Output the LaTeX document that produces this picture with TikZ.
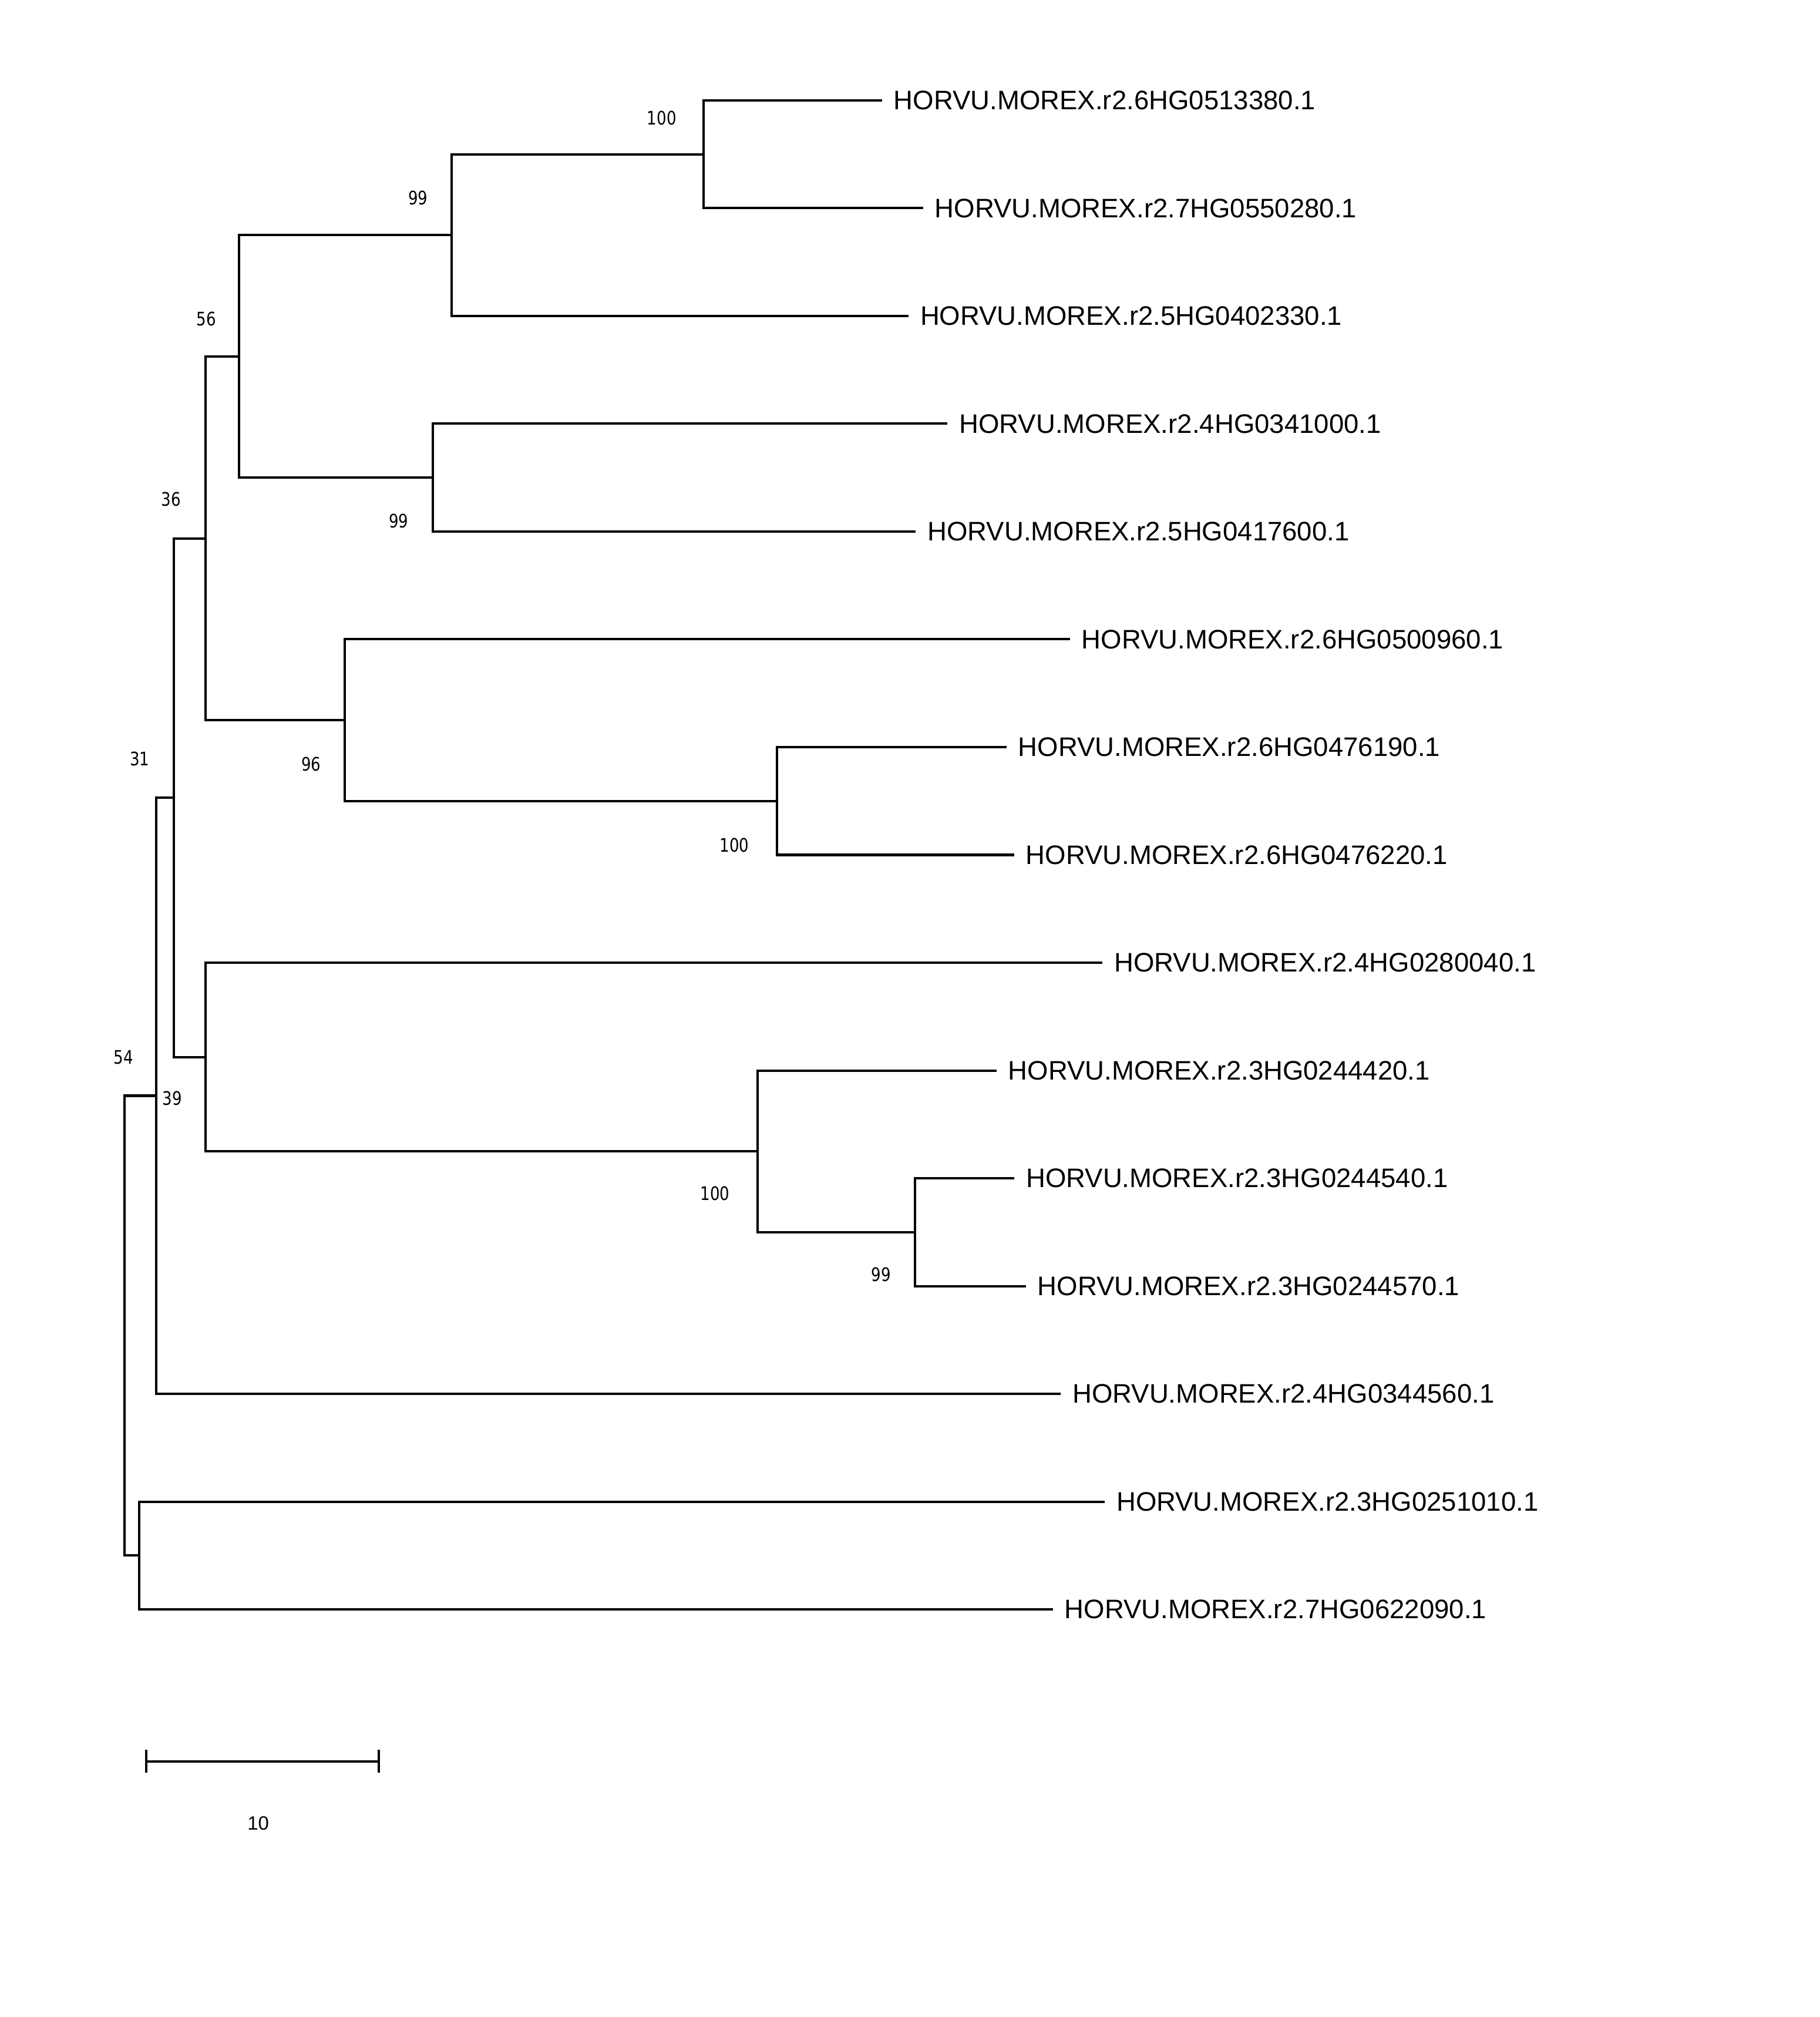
\documentclass[tikz,border=0pt]{standalone}
\usepackage{fontspec}
\setmainfont{Liberation Sans}
\newfontfamily\bootfont[FakeStretch=0.82]{DejaVu Sans}
\begin{document}
\begin{tikzpicture}[x=1pt,y=-1pt,
  br/.style={line width=1.85pt},
  leaflabel/.style={anchor=west, inner sep=0pt, font=\fontsize{20.8}{24}\selectfont},
  boot/.style={inner sep=0pt, font=\bootfont\fontsize{14.5}{17}\selectfont},
  scalelabel/.style={inner sep=0pt, font=\fontsize{15}{18}\selectfont}]
\useasboundingbox[fill=white] (0,0) rectangle (1415,1568);
% internal nodes
\coordinate (r) at (97,1030.55);
\coordinate (a) at (121.5,851.8);
\coordinate (b) at (135,620.1);
\coordinate (c) at (160,418.5);
\coordinate (d) at (186,277);
\coordinate (e) at (351,182.75);
\coordinate (f) at (547,119.9);
\coordinate (g) at (336.5,371.3);
\coordinate (h) at (268,559.9);
\coordinate (i) at (604,622.7);
\coordinate (j) at (160,821.7);
\coordinate (k) at (589,895.05);
\coordinate (l) at (711.3,957.9);
\coordinate (m) at (108,1209.3);
% leaf ends
\coordinate (e1) at (685.7,78);
\coordinate (e2) at (717.7,161.8);
\coordinate (e3) at (706.3,245.6);
\coordinate (e4) at (736.7,329.4);
\coordinate (e5) at (712,413.2);
\coordinate (e6) at (831.8,497);
\coordinate (e7) at (782.5,580.8);
\coordinate (e8) at (788.4,664.6);
\coordinate (e9) at (857.1,748.4);
\coordinate (e10) at (774.7,832.2);
\coordinate (e11) at (788.6,916);
\coordinate (e12) at (797.6,999.8);
\coordinate (e13) at (824.7,1083.6);
\coordinate (e14) at (858.9,1167.4);
\coordinate (e15) at (818.6,1251.2);
% leaf labels
\node[leaflabel] (t1) at ([xshift=9pt]e1) {HORVU.MOREX.r2.6HG0513380.1};
\node[leaflabel] (t2) at ([xshift=9pt]e2) {HORVU.MOREX.r2.7HG0550280.1};
\node[leaflabel] (t3) at ([xshift=9pt]e3) {HORVU.MOREX.r2.5HG0402330.1};
\node[leaflabel] (t4) at ([xshift=9pt]e4) {HORVU.MOREX.r2.4HG0341000.1};
\node[leaflabel] (t5) at ([xshift=9pt]e5) {HORVU.MOREX.r2.5HG0417600.1};
\node[leaflabel] (t6) at ([xshift=9pt]e6) {HORVU.MOREX.r2.6HG0500960.1};
\node[leaflabel] (t7) at ([xshift=9pt]e7) {HORVU.MOREX.r2.6HG0476190.1};
\node[leaflabel] (t8) at ([xshift=9pt]e8) {HORVU.MOREX.r2.6HG0476220.1};
\node[leaflabel] (t9) at ([xshift=9pt]e9) {HORVU.MOREX.r2.4HG0280040.1};
\node[leaflabel] (t10) at ([xshift=9pt]e10) {HORVU.MOREX.r2.3HG0244420.1};
\node[leaflabel] (t11) at ([xshift=9pt]e11) {HORVU.MOREX.r2.3HG0244540.1};
\node[leaflabel] (t12) at ([xshift=9pt]e12) {HORVU.MOREX.r2.3HG0244570.1};
\node[leaflabel] (t13) at ([xshift=9pt]e13) {HORVU.MOREX.r2.4HG0344560.1};
\node[leaflabel] (t14) at ([xshift=9pt]e14) {HORVU.MOREX.r2.3HG0251010.1};
\node[leaflabel] (t15) at ([xshift=9pt]e15) {HORVU.MOREX.r2.7HG0622090.1};
% branches
\draw[br] (r) |- (a);
\draw[br] (r) |- (m);
\draw[br] (a) |- (b);
\draw[br] (a) |- (e13);
\draw[br] (b) |- (c);
\draw[br] (b) |- (j);
\draw[br] (c) |- (d);
\draw[br] (c) |- (h);
\draw[br] (d) |- (e);
\draw[br] (d) |- (g);
\draw[br] (e) |- (f);
\draw[br] (e) |- (e3);
\draw[br] (f) |- (e1);
\draw[br] (f) |- (e2);
\draw[br] (g) |- (e4);
\draw[br] (g) |- (e5);
\draw[br] (h) |- (e6);
\draw[br] (h) |- (i);
\draw[br] (i) |- (e7);
\draw[br] (i) |- (e8);
\draw[br] (j) |- (e9);
\draw[br] (j) |- (k);
\draw[br] (k) |- (e10);
\draw[br] (k) |- (l);
\draw[br] (l) |- (e11);
\draw[br] (l) |- (e12);
\draw[br] (m) |- (e14);
\draw[br] (m) |- (e15);
% bootstrap values
\node[boot] (bf) at (514.5,91.8) {100};
\node[boot] (be) at (325,154) {99};
\node[boot] (bd) at (160.5,247.7) {56};
\node[boot] (bg) at (310,405) {99};
\node[boot] (bc) at (133,388) {36};
\node[boot] (bh) at (242,594) {96};
\node[boot] (bi) at (571,657) {100};
\node[boot] (bb) at (108.5,590) {31};
\node[boot] (ba) at (96,822) {54};
\node[boot] (bj) at (134,854) {39};
\node[boot] (bk) at (556,928) {100};
\node[boot] (bl) at (685,991) {99};
% scale bar
\coordinate (s1) at (113.9,1369.4);
\coordinate (s2) at (294.7,1369.4);
\draw[br] (s1) -- (s2);
\draw[br] ([yshift=-8.7pt]s1) -- ([yshift=9.1pt]s1);
\draw[br] ([yshift=-8.7pt]s2) -- ([yshift=9.1pt]s2);
\node[scalelabel] (sl) at (200.7,1417.3) {10};
\end{tikzpicture}
\end{document}
